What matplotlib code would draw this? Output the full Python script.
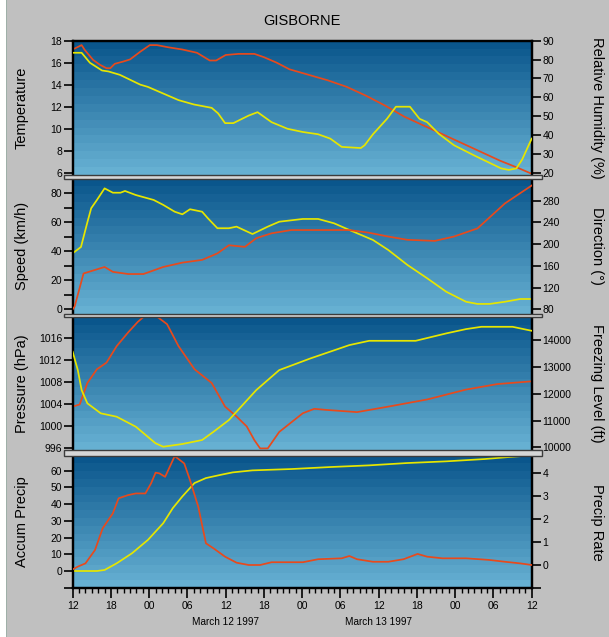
import matplotlib
matplotlib.use("Agg")
import matplotlib.pyplot as plt
from matplotlib.patches import Rectangle
import numpy as np

# ---------------- data ----------------
title = "GISBORNE"
x_tick_hours = list(range(0, 73, 6))
x_tick_labels = ["12", "18", "00", "06", "12", "18", "00", "06", "12", "18", "00", "06", "12"]
date_labels = ["March 12 1997", "March 13 1997"]
date_label_hours = [24, 48]

# Panel 1: temperature (left, red) and relative humidity (right, yellow)
temp_h = [0, 1.4, 1.9, 3.2, 4.3, 5.3, 5.9, 6.6, 7.9, 9.0, 10.6, 12.1, 13.2, 15, 17.2, 19.5,
          21.5, 22.5, 24, 26, 28.5, 30, 32, 34, 37, 40, 43, 46, 49, 52, 55, 58, 61, 64, 67,
          70, 72]
temp_v = [17.2, 17.6, 17.15, 16.25, 15.8, 15.5, 15.5, 15.9, 16.1, 16.3, 17.0, 17.6, 17.6,
          17.4, 17.2, 16.9, 16.2, 16.2, 16.7, 16.8, 16.8, 16.5, 16.0, 15.4, 14.9, 14.4, 13.8,
          13.0, 12.1, 11.1, 10.3, 9.5, 8.7, 7.9, 7.1, 6.4, 5.9]
rh_h = [0, 1.4, 2.7, 4.6, 5.6, 7.4, 10.6, 11.8, 14.2, 16.6, 19.0, 21.8, 22.8, 23.9, 25.2,
        27.6, 29.0, 31.2, 33.7, 36.1, 38.5, 40.4, 42.2, 45.2, 45.8, 47.1, 49.3, 50.7, 52.9,
        54.4, 55.6, 57.4, 59.8, 62.9, 67.2, 68.4, 69.6, 70.5, 72]
rh_v = [83.6, 83.6, 78.3, 74.2, 73.7, 71.9, 66.7, 65.5, 62.0, 58.5, 56.2, 54.4, 51.5, 46.3,
        46.3, 50.3, 52.1, 46.8, 43.3, 41.6, 40.4, 38.1, 33.7, 33.1, 34.6, 40.4, 48.6, 55.0,
        55.0, 48.6, 46.8, 40.7, 34.6, 29.3, 22.3, 21.5, 22.3, 27.0, 38.1]

# Panel 2: wind speed (left, yellow) and direction (right, red)
speed_h = [0, 1.3, 2.3, 2.9, 3.8, 5.0, 6.3, 7.5, 8.2, 9.9, 12.7, 14.2, 16.0, 17.2, 18.4,
           20.3, 21.2, 22.7, 24.5, 25.7, 28.2, 30.6, 32.4, 36.1, 38.5, 41.0, 43.4, 47.1,
           49.5, 52.5, 55.6, 58.6, 61.7, 63.5, 65.4, 67.8, 70.2, 72]
speed_v = [38.6, 43, 60, 69.7, 75.4, 83.4, 80.4, 80.4, 81.6, 78.8, 75.4, 72, 67.3, 65.5, 69,
           67.3, 62.8, 55.9, 55.9, 57, 51.9, 57, 60.4, 62.3, 62.3, 59.3, 54.7, 47.8, 40.9,
           30.6, 21.4, 12.1, 5.2, 3.7, 3.7, 5.2, 7.1, 7.1]
dir_h = [0, 0.3, 1.7, 5.0, 6.3, 8.7, 11.1, 14.2, 17.2, 20.3, 22.7, 24.5, 27.0, 28.8, 31.2,
         34.3, 38.5, 43.4, 46.5, 49.5, 52.5, 56.8, 59.8, 63.5, 67.8, 72]
dir_v = [80, 85, 146, 158, 149, 145, 145, 158, 166, 171, 183, 198, 195, 211, 220, 226, 226,
         226, 221, 214, 208, 206, 214, 229, 275, 308]

# Panel 3: pressure (left, red) and freezing level (right, yellow)
pres_h = [0, 1.1, 2.3, 3.8, 5.3, 6.9, 8.7, 10.2, 11.1, 13.3, 14.8, 16.6, 19.1, 21.8, 23.9,
          25.7, 27.3, 28.5, 29.4, 30.6, 32.4, 36.1, 37.9, 39.8, 44.6, 49.5, 55.6, 61.7,
          66.6, 72]
pres_v = [1003.6, 1004, 1007.9, 1010.4, 1011.6, 1014.6, 1017.1, 1019.0, 1019.9, 1019.9,
          1018.6, 1014.6, 1010.4, 1007.9, 1003.6, 1001.8, 1000, 997.5, 996, 996, 999,
          1002.4, 1003.2, 1003, 1002.6, 1003.6, 1004.9, 1006.7, 1007.7, 1008.2]
frz_h = [0, 0.8, 1.4, 2.3, 4.4, 6.9, 9.9, 13.0, 14.2, 17.2, 20.3, 22.1, 24.5, 28.8, 32.4,
         37.3, 43.4, 46.5, 53.8, 58.6, 61.7, 64.1, 69.0, 72]
frz_v = [13567, 12884, 12138, 11642, 11269, 11142, 10769, 10149, 10022, 10123, 10272, 10582,
         11018, 12138, 12884, 13320, 13817, 13977, 13977, 14254, 14414, 14500, 14500, 14351]

# Panel 4: accumulated precip (left, yellow) and precip rate (right, red)
acc_h = [0, 3.8, 5.0, 6.9, 9.3, 11.8, 14.2, 15.7, 17.2, 19.1, 20.9, 23.3, 25.1, 28.2, 34.3,
         40.4, 46.5, 52.5, 58.6, 64.7, 67.8, 72]
acc_v = [0, 0, 0.6, 4.6, 10.6, 18.6, 28.6, 37.6, 44.6, 52.6, 55.6, 57.6, 59, 60.2, 61, 62.2,
         63.2, 64.6, 65.6, 67, 68, 69.2]
rate_h = [0, 0.8, 2.0, 3.5, 4.7, 6.3, 7.2, 8.7, 9.9, 11.4, 12.3, 13.0, 13.6, 14.5, 16.0,
          17.5, 18.4, 19.7, 20.9, 22.1, 23.9, 25.7, 27.6, 29.4, 31.2, 36.1, 38.5, 42.2,
          43.4, 44.6, 47.1, 49.5, 51.9, 54.1, 55.6, 58.0, 61.7, 65.3, 67.8, 70.2, 72]
rate_v = [-0.19, -0.07, 0.07, 0.65, 1.59, 2.24, 2.89, 3.03, 3.1, 3.1, 3.54, 4.0, 3.97, 3.82,
          4.72, 4.4, 3.68, 2.52, 0.94, 0.72, 0.36, 0.1, 0.0, 0.0, 0.12, 0.12, 0.25, 0.29,
          0.39, 0.25, 0.14, 0.14, 0.25, 0.48, 0.36, 0.29, 0.29, 0.22, 0.14, 0.07, 0.0]

left_labels = ["Temperature", "Speed (km/h)", "Pressure (hPa)", "Accum Precip"]
right_labels = ["Relative Humidity (%)", "Direction (\u00b0)", "Freezing Level (ft)", "Precip Rate"]

left_ticks = [[6, 8, 10, 12, 14, 16, 18],
              [0, 10, 20, 30, 40, 50, 60, 70, 80],
              [996, 1000, 1004, 1008, 1012, 1016],
              [-10, 0, 10, 20, 30, 40, 50, 60]]
left_ticklabels = [["6", "8", "10", "12", "14", "16", "18"],
                   ["0", "", "20", "", "40", "", "60", "", "80"],
                   ["996", "1000", "1004", "1008", "1012", "1016"],
                   ["", "0", "10", "20", "30", "40", "50", "60"]]
right_ticks = [[20, 30, 40, 50, 60, 70, 80, 90],
               [80, 120, 160, 200, 240, 280],
               [10000, 11000, 12000, 13000, 14000],
               [-1, 0, 1, 2, 3, 4]]
right_ticklabels = [["20", "30", "40", "50", "60", "70", "80", "90"],
                    ["80", "120", "160", "200", "240", "280"],
                    ["10000", "11000", "12000", "13000", "14000"],
                    ["", "0", "1", "2", "3", "4"]]

# ---------------- style / layout ----------------
W, H, DPI = 609, 637, 100
BG = "#c0c0c0"
RED = "#e84a1c"
YEL = "#e6e600"
plt.rcParams["font.family"] = ["Liberation Sans", "DejaVu Sans"]

fig = plt.figure(figsize=(W / DPI, H / DPI), dpi=DPI, facecolor=BG)

XL, XR = 72.7, 531.7
panels_px = [(40.7, 175.0), (178.5, 313.5), (317.0, 449.5), (455.5, 588.3)]
left_lims = [(5.79, 18.0), (-2.9, 90.2), (995.8, 1019.9), (-10.35, 69.1)]
right_lims = [(18.8, 90.0), (72.3, 320.9), (9918, 14866), (-1.01, 4.745)]

series = [
    ((temp_h, temp_v, RED), (rh_h, rh_v, YEL)),
    ((speed_h, speed_v, YEL), (dir_h, dir_v, RED)),
    ((pres_h, pres_v, RED), (frz_h, frz_v, YEL)),
    ((acc_h, acc_v, YEL), (rate_h, rate_v, RED)),
]

top_c = np.array([10, 86, 140]) / 255.0
bot_c = np.array([102, 176, 210]) / 255.0
NB = 17

# white strip on the left edge
fig.add_artist(Rectangle((0, 0), 5.5 / W, 1, transform=fig.transFigure,
                         facecolor="white", edgecolor="none", zorder=0))
fig.add_artist(Rectangle((5.5 / W, 0), 1.2 / W, 1, transform=fig.transFigure,
                         facecolor="#9fb0a8", edgecolor="none", zorder=0))

axes = []
for i, (ptop, pbot) in enumerate(panels_px):
    ax = fig.add_axes([XL / W, 1 - pbot / H, (XR - XL) / W, (pbot - ptop) / H])
    ax.set_facecolor("none")
    for k in range(NB):
        f = k / (NB - 1)
        col = top_c * (1 - f) + bot_c * f
        ax.add_patch(Rectangle((0, 1 - (k + 1) / NB), 1, 1 / NB, transform=ax.transAxes,
                               facecolor=col, edgecolor="none", zorder=0))
    ax2 = ax.twinx()
    (lh, lv, lc), (rh, rv, rc) = series[i]
    ax.plot(lh, lv, color=lc, lw=1.25, zorder=3)
    ax2.plot(rh, rv, color=rc, lw=1.25, zorder=3)
    ax.set_xlim(0, 72)
    ax.set_ylim(*left_lims[i])
    ax2.set_ylim(*right_lims[i])
    ax.set_yticks(left_ticks[i])
    ax.set_yticklabels(left_ticklabels[i])
    ax2.set_yticks(right_ticks[i])
    ax2.set_yticklabels(right_ticklabels[i])
    for a in (ax, ax2):
        a.tick_params(axis="y", direction="out", length=6.2, width=1.2, colors="black",
                      labelsize=7.5, pad=1.5)
        for s in a.spines.values():
            s.set_linewidth(1.6)
            s.set_color("black")
        a.spines["top"].set_visible(i == 0)
        a.spines["bottom"].set_visible(i == 3)
    if i < 3:
        ax.tick_params(axis="x", bottom=False, labelbottom=False)
    else:
        ax.set_xticks(x_tick_hours)
        ax.set_xticklabels(x_tick_labels)
        ax.set_xticks(np.arange(0, 73, 1), minor=True)
        ax.tick_params(axis="x", which="major", direction="out", length=7.2, width=1.2,
                       labelsize=7.5, pad=2)
        ax.tick_params(axis="x", which="minor", direction="out", length=3.8, width=1.0)
    axes.append(ax)
    cy = 1 - (ptop + pbot) / 2 / H
    fig.text(22 / W, cy, left_labels[i], rotation=90, ha="center", va="center", fontsize=10.5)
    fig.text(597 / W, cy, right_labels[i], rotation=270, ha="center", va="center",
             fontsize=10.5)

# separators between panels
seps = [(175.0, 178.5), (313.5, 317.0), (449.5, 455.5)]
for y0, y1 in seps:
    fig.add_artist(Rectangle((64 / W, 1 - y1 / H), (541.5 - 64) / W, (y1 - y0) / H,
                             transform=fig.transFigure, facecolor="#d6d6d6",
                             edgecolor="#3c3c3c", lw=1.0, zorder=5))

fig.text(302 / W, 1 - 21 / H, title, ha="center", va="center", fontsize=10.5)
for lab, hr in zip(date_labels, date_label_hours):
    fig.text((XL + hr / 72 * (XR - XL)) / W, 1 - 622 / H, lab, ha="center", va="center",
             fontsize=7.2)

fig.savefig("out.png", dpi=DPI, facecolor=BG)
